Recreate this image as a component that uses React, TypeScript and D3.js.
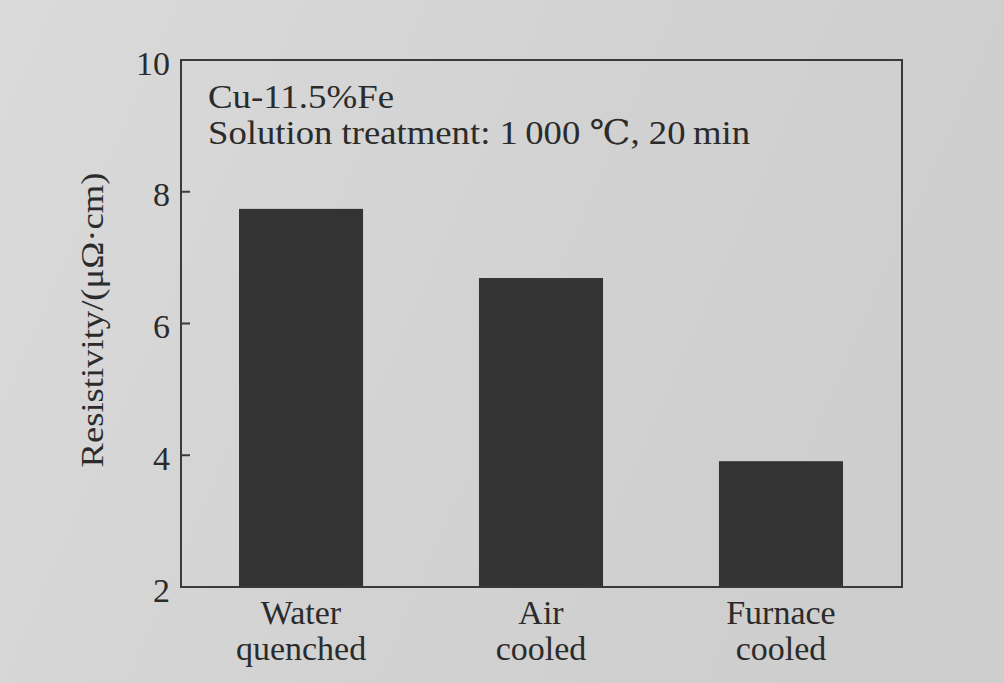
import React from "react";
import * as d3 from "d3";

const categories: string[][] = [["Water", "quenched"], ["Air", "cooled"], ["Furnace", "cooled"]];
const resistivity: number[] = [7.74, 6.69, 3.91];
const yTicks: number[] = [2, 4, 6, 8, 10];
const titleLines: string[] = ["Cu-11.5%Fe", "Solution treatment: 1\u2009000 \u2103, 20\u2009min"];
const yLabel = "Resistivity/(\u03bc\u03a9\u00b7cm)";

const W = 1004;
const H = 683;
const plot = { left: 181, right: 902, top: 60, bottom: 587 };
const FONT = "'Liberation Serif', 'DejaVu Serif', serif";
const INK = "#2b2b2b";

export default function App() {
  const x = d3
    .scaleBand<number>()
    .domain(categories.map((_, i) => i))
    .range([plot.left, plot.right - 1])
    .paddingInner(0.483)
    .paddingOuter(0.2417);
  const y = d3.scaleLinear().domain([2, 10]).range([plot.bottom, plot.top]);

  return (
    <svg
      width={W}
      height={H}
      viewBox={`0 0 ${W} ${H}`}
      style={{ position: "absolute", left: 0, top: 0, display: "block" }}
    >
      <defs>
        <linearGradient id="bg" x1="0" y1="0" x2="1" y2="0.3">
          <stop offset="0" stopColor="#dadada" />
          <stop offset="0.3" stopColor="#d6d6d6" />
          <stop offset="0.6" stopColor="#d2d2d2" />
          <stop offset="1" stopColor="#cecece" />
        </linearGradient>
      </defs>
      <rect x={0} y={0} width={W} height={H} fill="url(#bg)" />

      {/* bars */}
      {resistivity.map((v, i) => (
        <rect
          key={i}
          x={x(i)}
          y={y(v)}
          width={x.bandwidth()}
          height={y(2) - y(v)}
          fill="#333333"
        />
      ))}

      {/* frame */}
      <rect
        x={plot.left}
        y={plot.top}
        width={plot.right - plot.left}
        height={plot.bottom - plot.top}
        fill="none"
        stroke="#3a3a3a"
        strokeWidth={2}
      />

      {/* y ticks */}
      {yTicks.map((t) => (
        <g key={t}>
          {t !== 2 && t !== 10 && (
            <line x1={plot.left} x2={plot.left + 9} y1={y(t)} y2={y(t)} stroke="#3a3a3a" strokeWidth={2} />
          )}
          <text
            x={plot.left - 11}
            y={y(t) + 3}
            textAnchor="end"
            dominantBaseline="central"
            fontFamily={FONT}
            fontSize={34}
            fill={INK}
          >
            {t}
          </text>
        </g>
      ))}

      {/* y label */}
      <text
        transform={`translate(103, 320) rotate(-90)`}
        textAnchor="middle"
        fontFamily={FONT}
        fontSize={31}
        fill={INK}
        textLength={295}
        lengthAdjust="spacingAndGlyphs"
      >
        {yLabel}
      </text>

      {/* title */}
      {titleLines.map((s, i) => (
        <text key={i} x={208} y={108 + i * 36} fontFamily={FONT} fontSize={34} fill={INK}
          textLength={i === 0 ? 186 : 542} lengthAdjust="spacingAndGlyphs">
          {s}
        </text>
      ))}

      {/* category labels */}
      {categories.map((lines, i) =>
        lines.map((s, j) => (
          <text
            key={`${i}-${j}`}
            x={(x(i) as number) + x.bandwidth() / 2}
            y={624 + j * 36}
            textAnchor="middle"
            fontFamily={FONT}
            fontSize={34}
            fill={INK}
          >
            {s}
          </text>
        ))
      )}
    </svg>
  );
}
